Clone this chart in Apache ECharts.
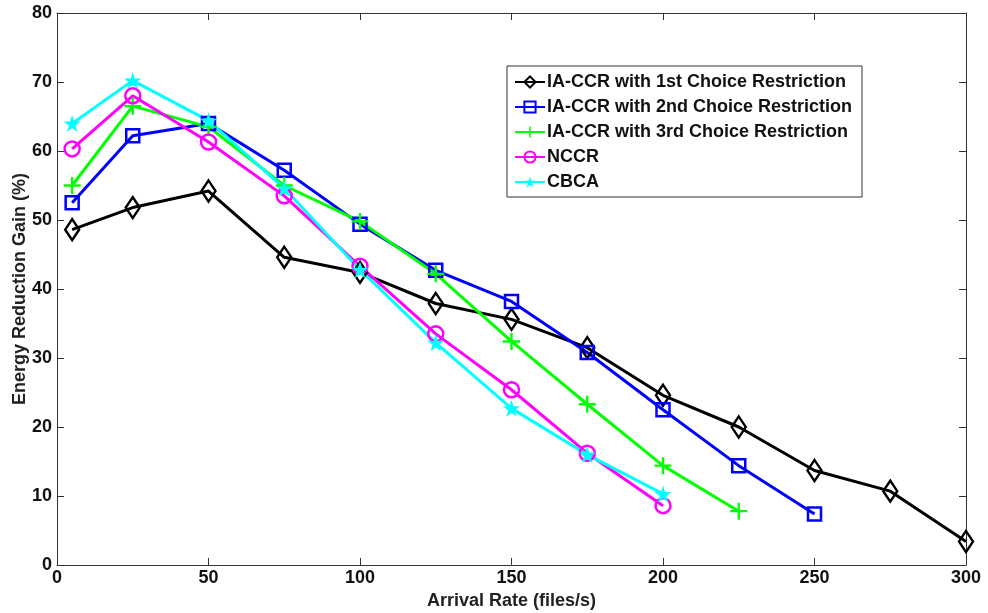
<!DOCTYPE html>
<html><head><meta charset="utf-8">
<script src="https://cdn.jsdelivr.net/npm/echarts@6/dist/echarts.min.js"></script>
<style>html,body{margin:0;padding:0;background:#fff}#c{width:988px;height:613px}</style>
</head><body><div id="c"></div>
<script>
const xFirst = [5,25,50,75,100,125,150,175,200,225,250,275,300];
const first  = [48.6,51.8,54.2,44.6,42.4,37.9,35.6,31.5,24.6,20.0,13.7,10.7,3.4];
const second = [52.5,62.2,64.0,57.2,49.4,42.7,38.2,30.8,22.5,14.4,7.4];
const third  = [55.0,66.5,63.5,55.0,49.8,42.2,32.4,23.3,14.4,7.8];
const nccr   = [60.3,68.0,61.3,53.5,43.3,33.5,25.4,16.2,8.6];
const cbca   = [64.0,70.2,64.4,54.6,42.8,32.2,22.7,16.0,10.3];
const names = ['IA-CCR with 1st Choice Restriction','IA-CCR with 2nd Choice Restriction','IA-CCR with 3rd Choice Restriction','NCCR','CBCA'];
const xName = 'Arrival Rate (files/s)';
const yName = 'Energy Reduction Gain (%)';

const pair = v => v.map((y,i)=>[xFirst[i], y]);
const PLUS = 'path://M4.3,0 L5.7,0 L5.7,4.3 L10,4.3 L10,5.7 L5.7,5.7 L5.7,10 L4.3,10 L4.3,5.7 L0,5.7 L0,4.3 L4.3,4.3 Z';
const STAR = 'path://M50,0 L61.8,36.3 L100,36.3 L69.1,58.8 L80.9,95.1 L50,72.6 L19.1,95.1 L30.9,58.8 L0,36.3 L38.2,36.3 Z';
const font = 'Liberation Sans, Arial, sans-serif';

function mk(name, data, color, symbol, size, filled){
  return {
    name, type:'line', data: pair(data), symbol, symbolSize:size,
    showAllSymbol:true,
    lineStyle:{color, width:3},
    itemStyle: filled ? {color, borderColor:color, borderWidth:0} : {color:'rgba(255,255,255,0)', borderColor:color, borderWidth:2.5},
    emphasis:{disabled:true}, animation:false, z: 2
  };
}
const axisCommon = {
  min:0, axisLine:{show:true, onZero:false, lineStyle:{color:'#333', width:1}},
  axisTick:{show:true, inside:true, length:7, lineStyle:{color:'#333'}},
  splitLine:{show:false}
};
const chart = echarts.init(document.getElementById('c'));
chart.setOption({
  animation:false,
  grid:{left:57, right:22, top:13, bottom:48, containLabel:false, outerBoundsMode:'none'},
  xAxis:[
    Object.assign({}, axisCommon, {type:'value', max:300, interval:50, position:'bottom',
      name:xName, nameLocation:'middle', nameGap:27, nameMoveOverlap:false,
      nameTextStyle:{fontFamily:font, fontWeight:'bold', fontSize:18, color:'#222'},
      axisLabel:{fontFamily:font, fontWeight:'bold', fontSize:18, color:'#111', margin:4}}),
    Object.assign({}, axisCommon, {type:'value', max:300, interval:50, position:'top', axisLabel:{show:false}})
  ],
  yAxis:[
    Object.assign({}, axisCommon, {type:'value', max:80, interval:10, position:'left',
      name:yName, nameLocation:'middle', nameGap:28, nameMoveOverlap:false,
      nameTextStyle:{fontFamily:font, fontWeight:'bold', fontSize:18, color:'#222'},
      axisLabel:{fontFamily:font, fontWeight:'bold', fontSize:18, color:'#111', margin:5}}),
    Object.assign({}, axisCommon, {type:'value', max:80, interval:10, position:'right', axisLabel:{show:false}})
  ],
  legend:{
    orient:'vertical', left:507, top:66, padding:[7,10,6,7],
    backgroundColor:'#fff', borderColor:'#333', borderWidth:1,
    itemWidth:30, itemHeight:14, itemGap:7,
    textStyle:{fontFamily:font, fontWeight:'bold', fontSize:18, color:'#111', padding:[0,0,0,-3]},
    data:names
  },
  series:[
    mk(names[0], first, '#000000', 'diamond', [14,21], false),
    mk(names[1], second, '#0000ff', 'rect', 13, false),
    mk(names[2], third, '#00ff00', PLUS, 17, true),
    mk(names[3], nccr, '#ff00ff', 'circle', 15, false),
    mk(names[4], cbca, '#00ffff', STAR, 17, true)
  ]
});
</script></body></html>
